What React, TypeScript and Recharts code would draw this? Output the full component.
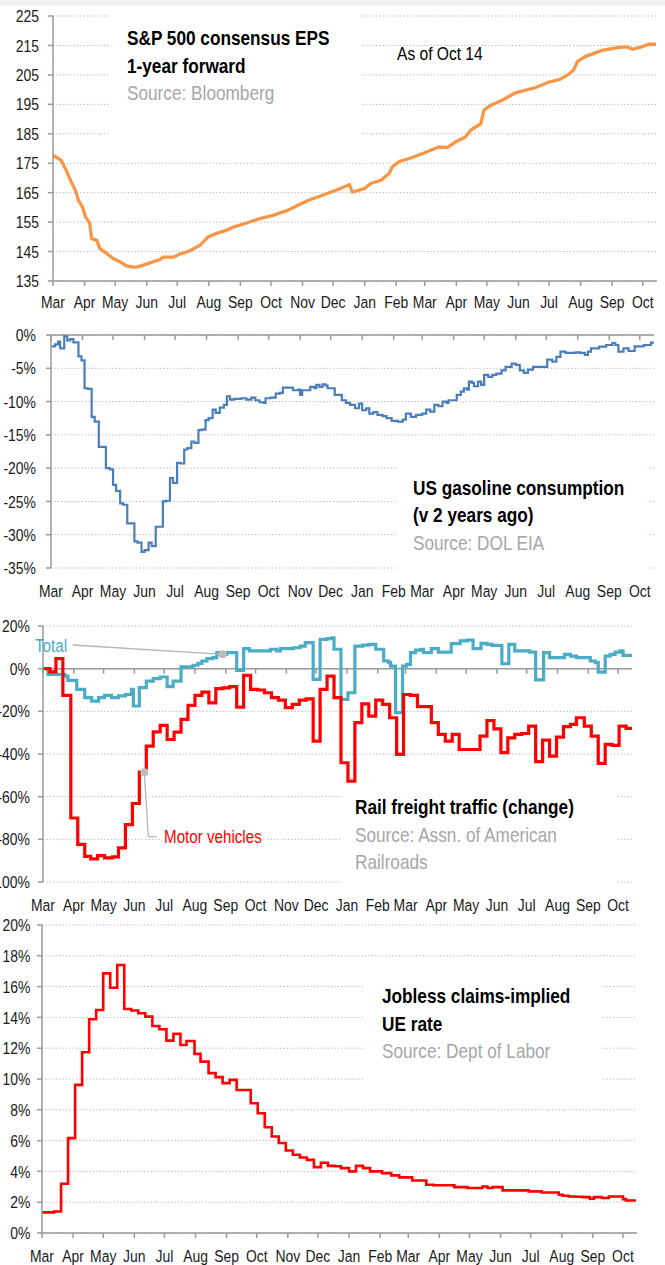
import React from 'react';
import { LineChart, Line, XAxis, YAxis, CartesianGrid, ReferenceLine, ReferenceDot } from 'recharts';

const FONT = "'Liberation Sans', Arial, sans-serif";
const NARROW = 0.82;

// x axis: days since 1 Mar 2020
const monthTickDays = [0, 31, 61, 92, 122, 153, 184, 214, 245, 275, 306, 337, 365, 396, 426, 457, 487, 518, 549, 579];
const monthTickLabels = ['Mar', 'Apr', 'May', 'Jun', 'Jul', 'Aug', 'Sep', 'Oct', 'Nov', 'Dec', 'Jan', 'Feb', 'Mar', 'Apr', 'May', 'Jun', 'Jul', 'Aug', 'Sep', 'Oct'];
const xDomain = [0, 593];

// Panel 1: S&P 500 consensus EPS
const epsDays = [0, 8, 13, 18, 22, 25, 29, 32, 36, 38, 43, 46, 53, 59, 66, 72, 79, 82, 88, 98, 105, 108, 118, 124, 134, 144, 149, 152, 160, 170, 177, 190, 203, 216, 229, 242, 252, 262, 275, 278, 291, 294, 306, 312, 322, 330, 333, 340, 350, 363, 379, 387, 395, 405, 410, 420, 423, 430, 441, 454, 474, 487, 497, 505, 511, 515, 523, 539, 555, 564, 569, 578, 585, 592];
const epsValues = [177.7, 176, 172.5, 168.6, 165.8, 162.4, 160.1, 156.7, 154.7, 149.4, 148.8, 146.0, 144.3, 142.6, 141.5, 140.1, 139.7, 139.7, 140.3, 141.5, 142.3, 143.1, 143.1, 144.1, 145.2, 147.1, 148.8, 149.9, 151.1, 152.2, 153.3, 154.7, 156.2, 157.3, 158.8, 161.0, 162.6, 163.8, 165.5, 165.8, 167.7, 165.2, 166.4, 168.1, 169.2, 171.5, 173.7, 175.6, 176.6, 178.3, 180.5, 180.3, 182.2, 183.9, 186.2, 188.4, 193.0, 194.7, 196.4, 198.9, 200.7, 202.6, 203.4, 204.9, 206.6, 209.6, 211.3, 213.3, 214.3, 214.5, 213.7, 214.5, 215.4, 215.4];
const epsTicks = [135, 145, 155, 165, 175, 185, 195, 205, 215, 225];

// Panel 2: US gasoline consumption (% v 2 years ago)
const gasDays = [0, 4, 7, 9, 13, 16, 19, 22, 27, 30, 33, 36, 40, 43, 47, 54, 58, 61, 64, 68, 71, 75, 82, 85, 89, 92, 96, 99, 103, 110, 113, 117, 120, 124, 127, 131, 134, 138, 141, 145, 148, 152, 155, 159, 162, 166, 170, 173, 176, 180, 187, 192, 197, 201, 205, 209, 211, 216, 221, 225, 228, 235, 238, 243, 245, 247, 253, 255, 259, 261, 264, 267, 270, 272, 276, 279, 284, 286, 290, 294, 299, 303, 306, 310, 313, 317, 321, 326, 330, 335, 341, 346, 349, 354, 359, 365, 369, 373, 377, 381, 385, 389, 391, 397, 399, 403, 406, 409, 411, 414, 416, 420, 423, 426, 430, 434, 438, 443, 447, 453, 457, 461, 465, 469, 474, 487, 488, 493, 497, 501, 506, 516, 520, 525, 528, 531, 539, 546, 552, 555, 558, 563, 568, 574, 583, 590, 593];
const gasValues = [-1.7, -1.4, -1.0, -2.0, -0.2, -0.8, -0.6, -1.1, -3.2, -3.8, -8.0, -8.1, -12.3, -13.0, -16.8, -20.0, -20.2, -22.5, -23.4, -25.3, -25.5, -28.3, -31.0, -31.2, -32.6, -32.3, -31.2, -31.7, -28.8, -25.0, -24.9, -21.5, -22.2, -19.2, -19.3, -17.2, -17.0, -16.0, -16.2, -14.3, -14.2, -12.8, -12.5, -11.2, -11.7, -10.9, -10.5, -9.2, -9.7, -9.6, -9.5, -9.7, -9.4, -9.8, -10.1, -10.2, -9.5, -9.4, -8.8, -8.7, -7.9, -7.9, -8.3, -8.2, -9.0, -8.3, -8.3, -7.8, -8.0, -7.5, -7.8, -7.4, -7.6, -8.0, -8.0, -9.0, -9.0, -9.8, -10.2, -10.5, -11.0, -10.3, -11.3, -11.0, -11.8, -11.6, -12.0, -12.2, -12.5, -12.9, -13.0, -12.7, -11.8, -12.3, -12.0, -11.8, -11.2, -11.5, -10.5, -10.7, -10.0, -10.2, -9.8, -9.8, -9.0, -8.5, -8.0, -8.2, -7.0, -7.2, -7.7, -7.0, -7.5, -6.0, -6.3, -6.0, -5.8, -5.3, -4.8, -4.3, -4.5, -5.3, -5.7, -5.2, -4.8, -4.8, -3.7, -4.0, -3.3, -2.5, -2.7, -2.6, -2.7, -3.0, -2.5, -2.0, -1.75, -1.5, -1.2, -1.5, -2.5, -2.0, -2.4, -1.7, -1.5, -1.15, -1.1];
const gasTicks = [-35, -30, -25, -20, -15, -10, -5, 0];

// Panel 3: Rail freight traffic (% change)
const railTotalDays = [0, 5, 22, 25, 34, 42, 49, 56, 62, 69, 76, 83, 89, 91, 97, 104, 111, 118, 125, 131, 139, 151, 156, 160, 165, 171, 175, 181, 185, 195, 202, 208, 229, 235, 239, 252, 259, 264, 272, 279, 286, 291, 293, 300, 307, 314, 322, 328, 335, 343, 348, 350, 355, 362, 366, 370, 375, 380, 383, 391, 398, 411, 420, 427, 433, 441, 447, 452, 462, 469, 475, 490, 496, 504, 510, 525, 531, 537, 551, 556, 559, 566, 571, 576, 581, 584, 593];
const railTotalValues = [0, -2.7, -3.5, -5.5, -9.7, -13.6, -15.2, -13.6, -12.5, -13.6, -12.8, -12.1, -9.7, -17.5, -8.9, -5.8, -4.7, -3.9, -8.4, -5.8, 0.9, 1.6, 2.5, 3.6, 4.7, 5.2, 7.5, 6.7, 7.5, -0.8, 9.4, 8.3, 9.1, 8.3, 9.4, 9.8, 10.6, 12.2, -5.0, 13.7, 14.1, 14.5, 9.1, -14.4, -11.3, 10.6, 11.0, 11.4, 9.1, 3.6, 2.8, 1.2, -20.6, 1.2, 2.0, 7.5, 8.7, 9.1, 7.5, 9.4, 7.8, 11.7, 13.0, 13.4, 9.4, 11.9, 11.4, 10.9, 2.3, 11.4, 8.3, 7.8, -5.3, 7.5, 5.2, 6.7, 5.9, 5.2, 3.6, 2.8, -1.6, 5.9, 6.7, 7.8, 8.3, 6.2, 6.2];
const railMotorDays = [0, 7, 13, 20, 28, 35, 42, 48, 55, 62, 70, 76, 83, 90, 97, 104, 111, 118, 125, 132, 139, 146, 153, 160, 167, 174, 181, 188, 195, 202, 209, 216, 223, 230, 237, 244, 251, 258, 265, 272, 279, 286, 293, 300, 307, 314, 321, 328, 335, 342, 349, 356, 363, 370, 377, 391, 398, 405, 412, 419, 440, 447, 454, 461, 468, 475, 482, 489, 496, 503, 510, 517, 524, 531, 537, 545, 552, 559, 566, 573, 580, 587, 593];
const railMotorValues = [0, -1.5, 4.7, -12.5, -70.0, -82.4, -88.0, -89.2, -87.6, -88.7, -88.2, -84.0, -73.1, -63.2, -48.5, -36.3, -29.6, -26.6, -33.2, -29.7, -23.8, -17.2, -12.5, -11.0, -16.0, -9.4, -9.0, -8.4, -18.0, -3.1, -9.7, -10.0, -11.3, -13.6, -14.7, -18.3, -16.7, -14.7, -14.2, -34.0, -9.7, -3.5, -13.6, -44.1, -52.7, -25.3, -16.5, -22.2, -14.7, -16.7, -23.0, -40.2, -12.1, -12.5, -17.8, -25.3, -30.8, -34.0, -30.8, -37.9, -31.6, -24.3, -28.2, -39.4, -32.4, -30.8, -30.4, -26.9, -43.6, -33.5, -41.0, -32.1, -27.2, -26.1, -23.0, -26.9, -31.6, -44.4, -35.5, -36.0, -26.9, -28.0, -28.0];
const railTicks = [-100, -80, -60, -40, -20, 0, 20];

// Panel 4: Jobless claims-implied UE rate (%)
const joblessDays = [0, 12, 19, 26, 33, 40, 47, 54, 61, 68, 75, 82, 89, 96, 103, 110, 117, 124, 131, 138, 144, 152, 158, 166, 173, 180, 187, 194, 208, 215, 222, 229, 236, 243, 250, 257, 264, 271, 278, 285, 292, 298, 306, 313, 320, 327, 339, 348, 356, 369, 383, 390, 411, 424, 439, 444, 449, 459, 485, 498, 515, 519, 525, 532, 539, 546, 550, 558, 565, 579, 582, 592];
const joblessValues = [1.34, 1.4, 3.2, 6.16, 9.62, 11.74, 13.88, 14.48, 16.86, 15.93, 17.4, 14.55, 14.45, 14.27, 14.05, 13.44, 13.23, 12.49, 12.93, 12.21, 12.47, 11.63, 11.13, 10.38, 10.12, 9.73, 9.94, 9.29, 8.43, 7.78, 6.87, 6.27, 5.84, 5.36, 5.08, 4.9, 4.75, 4.28, 4.56, 4.36, 4.33, 4.21, 4.0, 4.36, 4.21, 4.0, 3.89, 3.74, 3.61, 3.41, 3.13, 3.1, 2.98, 2.92, 3.02, 2.92, 2.98, 2.77, 2.7, 2.63, 2.48, 2.42, 2.37, 2.35, 2.33, 2.22, 2.33, 2.27, 2.37, 2.2, 2.11, 2.11];
const joblessTicks = [0, 2, 4, 6, 8, 10, 12, 14, 16, 18, 20];

const toRows = (days: number[], vals: number[]) => days.map((d, i) => ({ d, v: vals[i] }));
const stepValueAt = (days: number[], vals: number[], d: number) => {
  let v = vals[0];
  for (let i = 0; i < days.length; i++) if (days[i] <= d) v = vals[i];
  return v;
};

const epsData = toRows(epsDays, epsValues);
const gasData = toRows(gasDays, gasValues);
const railTotalData = toRows(railTotalDays, railTotalValues);
const railMotorData = toRows(railMotorDays, railMotorValues);
const joblessData = toRows(joblessDays, joblessValues);

const AXIS = '#999999';
const GRID = '#b0b0b0';
const TICK_FILL = '#1a1a1a';
const TICK_SIZE = 17;
const yTickLine = { stroke: AXIS, strokeWidth: 1.5 };

const monthLabel = (v: number) => monthTickLabels[monthTickDays.indexOf(v)] ?? '';
const pctLabel = (v: number) => `${v}%`;
const plainLabel = (v: number) => `${v}`;

// condensed text: Arial metrics squeezed horizontally
function NText({ x, y, children, size = 17, weight = 400, fill = '#000', anchor = 'start', dy }: any) {
  return (
    <text
      transform={`translate(${x} ${y}) scale(${NARROW} 1)`}
      textAnchor={anchor}
      dy={dy}
      style={{ fontFamily: FONT, fontSize: size, fontWeight: weight, fill }}
    >
      {children}
    </text>
  );
}

const makeXTick = (fmt: (v: number) => string) => (p: any) => (
  <NText x={p.x} y={p.y} anchor="middle" dy="0.71em" size={TICK_SIZE} fill={TICK_FILL}>{fmt(p.payload.value)}</NText>
);
const makeYTick = (fmt: (v: number) => string) => (p: any) => (
  <NText x={p.x} y={p.y} anchor="end" dy="0.36em" size={TICK_SIZE} fill={TICK_FILL}>{fmt(p.payload.value)}</NText>
);

const zeroLineTicks = (prefix: string) =>
  monthTickDays.map((d) => (
    <ReferenceLine
      key={prefix + d}
      segment={[{ x: d, y: 0 }, { x: d, y: 0 }]}
      stroke={AXIS}
      shape={(p: any) => <line x1={p.x1} y1={p.y1} x2={p.x1} y2={p.y1 + 5} stroke={AXIS} strokeWidth={1.5} />}
    />
  ));

const totalDotDay = 181;
const motorDotDay = 102;

const T = { size: 21, weight: 700, fill: '#000' };
const S = { size: 21, weight: 400, fill: '#a6a6a6' };

export default function App() {
  return (
    <div style={{ position: 'absolute', left: 0, top: 0, width: 665, height: 1265, background: '#fff', overflow: 'hidden' }}>
      {/* Panel 1 */}
      <div style={{ position: 'absolute', left: 0, top: 0 }}>
        <LineChart width={665} height={318} data={epsData} margin={{ top: 16, right: 8, bottom: 7, left: 0 }}>
          <CartesianGrid vertical={false} stroke={GRID} strokeDasharray="1.2 2.2" />
          <XAxis dataKey="d" type="number" domain={xDomain} ticks={monthTickDays} interval={0}
            height={30} tick={makeXTick(monthLabel)} stroke={AXIS} strokeWidth={1.5} tickSize={5} tickMargin={10} allowDataOverflow />
          <YAxis type="number" domain={[135, 225]} ticks={epsTicks} interval={0} width={53} tick={makeYTick(plainLabel)}
            tickLine={yTickLine} tickSize={5} tickMargin={9} stroke={AXIS} strokeWidth={1.5} allowDataOverflow />
          <Line dataKey="v" type="linear" stroke="#f79646" strokeWidth={3.3} dot={false} isAnimationActive={false} />
        </LineChart>
      </div>

      {/* Panel 2 */}
      <div style={{ position: 'absolute', left: 0, top: 318 }}>
        <LineChart width={665} height={290} data={gasData} margin={{ top: 17, right: 11, bottom: 10, left: 0 }}>
          <CartesianGrid vertical={false} stroke={GRID} strokeDasharray="1.2 2.2" />
          <XAxis dataKey="d" type="number" domain={xDomain} ticks={monthTickDays} interval={0}
            height={30} tick={makeXTick(monthLabel)} axisLine={false} tickLine={false} tickSize={0} tickMargin={17} allowDataOverflow />
          <YAxis type="number" domain={[-35, 0]} ticks={gasTicks} interval={0} width={51} tick={makeYTick(pctLabel)}
            tickLine={yTickLine} tickSize={5} tickMargin={10} stroke={AXIS} strokeWidth={1.5} allowDataOverflow />
          <ReferenceLine y={0} stroke={AXIS} strokeWidth={1.5} />
          {zeroLineTicks('g')}
          <Line dataKey="v" type="stepAfter" stroke="#4a7ebb" strokeWidth={2.2} dot={false} isAnimationActive={false} />
        </LineChart>
      </div>

      {/* Panel 3 */}
      <div style={{ position: 'absolute', left: 0, top: 608 }}>
        <LineChart width={665} height={312} margin={{ top: 18, right: 33, bottom: 8, left: 0 }}>
          <CartesianGrid vertical={false} stroke={GRID} strokeDasharray="1.2 2.2" />
          <XAxis dataKey="d" type="number" domain={xDomain} ticks={monthTickDays} interval={0}
            height={30} tick={makeXTick(monthLabel)} axisLine={false} tickLine={false} tickSize={0} tickMargin={17} allowDataOverflow />
          <YAxis type="number" domain={[-100, 20]} ticks={railTicks} interval={0} width={43} tick={makeYTick(pctLabel)}
            tickLine={yTickLine} tickSize={5} tickMargin={8} stroke={AXIS} strokeWidth={1.5} allowDataOverflow />
          <ReferenceLine y={0} stroke={AXIS} strokeWidth={1.5} />
          {zeroLineTicks('r')}
          <Line data={railTotalData} dataKey="v" type="stepAfter" stroke="#4bacc6" strokeWidth={3.2} dot={false} isAnimationActive={false} />
          <Line data={railMotorData} dataKey="v" type="stepAfter" stroke="#ff0000" strokeWidth={3.2} dot={false} isAnimationActive={false} />
          <ReferenceLine segment={[{ x: 30, y: 11.1 }, { x: totalDotDay, y: stepValueAt(railTotalDays, railTotalValues, totalDotDay) }]}
            stroke="#b5b5b5" strokeWidth={1.3} ifOverflow="visible" />
          <ReferenceLine segment={[{ x: motorDotDay, y: stepValueAt(railMotorDays, railMotorValues, motorDotDay) }, { x: 106, y: -78.8 }]}
            stroke="#b5b5b5" strokeWidth={1.3} ifOverflow="visible" />
          <ReferenceLine segment={[{ x: 106, y: -78.8 }, { x: 114.5, y: -78.8 }]} stroke="#b5b5b5" strokeWidth={1.3} ifOverflow="visible" />
          <ReferenceDot x={totalDotDay} y={stepValueAt(railTotalDays, railTotalValues, totalDotDay)} r={4} fill="#bdbdbd" stroke="none" />
          <ReferenceDot x={motorDotDay} y={stepValueAt(railMotorDays, railMotorValues, motorDotDay)} r={4} fill="#bdbdbd" stroke="none" />
        </LineChart>
      </div>

      {/* Panel 4 */}
      <div style={{ position: 'absolute', left: 0, top: 910 }}>
        <LineChart width={665} height={355} data={joblessData} margin={{ top: 15, right: 28, bottom: 2, left: 0 }}>
          <CartesianGrid vertical={false} stroke={GRID} strokeDasharray="1.2 2.2" />
          <XAxis dataKey="d" type="number" domain={xDomain} ticks={monthTickDays} interval={0}
            height={30} tick={makeXTick(monthLabel)} stroke={AXIS} strokeWidth={1.5} tickSize={5} tickMargin={12} allowDataOverflow />
          <YAxis type="number" domain={[0, 20]} ticks={joblessTicks} interval={0} width={42} tick={makeYTick(pctLabel)}
            tickLine={yTickLine} tickSize={5} tickMargin={6.5} stroke={AXIS} strokeWidth={1.5} allowDataOverflow />
          <Line dataKey="v" type="stepAfter" stroke="#ff0000" strokeWidth={2.6} dot={false} isAnimationActive={false} />
        </LineChart>
      </div>

      {/* Titles and notes */}
      <svg width={665} height={1265} style={{ position: 'absolute', left: 0, top: 0, pointerEvents: 'none' }}>
        <rect x={0} y={0} width={665} height={5.5} fill="#efefef" />

        <rect x={110} y={8} width={252} height={140} fill="#fff" />
        <NText x={127} y={45} {...T}>S&amp;P 500 consensus EPS</NText>
        <NText x={127} y={73} {...T}>1-year forward</NText>
        <NText x={127} y={100} {...S}>Source: Bloomberg</NText>
        <NText x={397} y={60} size={19} fill="#000">As of Oct 14</NText>

        <rect x={397} y={450} width={250} height={122} fill="#fff" />
        <NText x={413} y={495} {...T}>US gasoline consumption</NText>
        <NText x={413} y={522} {...T}>(v 2 years ago)</NText>
        <NText x={413} y={550} {...S}>Source: DOL EIA</NText>

        <rect x={342} y={787} width={274} height={98} fill="#fff" />
        <NText x={355} y={814} {...T}>Rail freight traffic (change)</NText>
        <NText x={355} y={842} {...S}>Source: Assn. of American</NText>
        <NText x={355} y={869} {...S}>Railroads</NText>
        <NText x={35} y={652} size={18.5} fill="#4bacc6">Total</NText>
        <rect x={162} y={828} width={103} height={18} fill="#fff" />
        <NText x={164} y={843} size={18.5} fill="#ff0000">Motor vehicles</NText>

        <rect x={365} y={962} width={238} height={133} fill="#fff" />
        <NText x={382} y={1003} {...T}>Jobless claims-implied</NText>
        <NText x={382} y={1031} {...T}>UE rate</NText>
        <NText x={382} y={1058} {...S}>Source: Dept of Labor</NText>
      </svg>
    </div>
  );
}
